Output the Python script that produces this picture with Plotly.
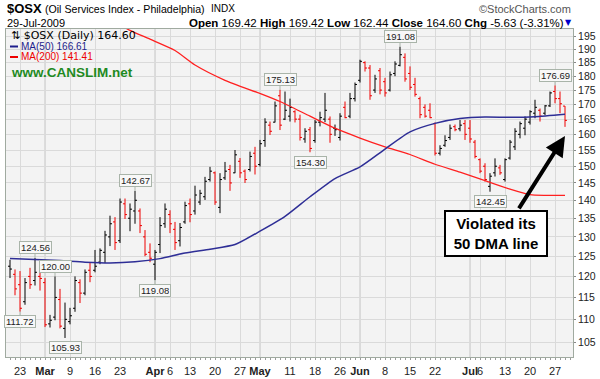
import math
import plotly.graph_objects as go

# ---------------- data ----------------
feb = [19, 20, 23, 24, 25, 26, 27]
mar = [2, 3, 4, 5, 6, 9, 10, 11, 12, 13, 16, 17, 18, 19, 20, 23, 24, 25, 26, 27, 30, 31]
apr = [1, 2, 3, 6, 7, 8, 9, 13, 14, 15, 16, 17, 20, 21, 22, 23, 24, 27, 28, 29, 30]
may = [1, 4, 5, 6, 7, 8, 11, 12, 13, 14, 15, 18, 19, 20, 21, 22, 26, 27, 28, 29]
jun = [1, 2, 3, 4, 5, 8, 9, 10, 11, 12, 15, 16, 17, 18, 19, 22, 23, 24, 25, 26, 29, 30]
jul = [1, 2, 6, 7, 8, 9, 10, 13, 14, 15, 16, 17, 20, 21, 22, 23, 24, 27, 28, 29]
dates = ([f"2009-02-{d:02d}" for d in feb] + [f"2009-03-{d:02d}" for d in mar] +
         [f"2009-04-{d:02d}" for d in apr] + [f"2009-05-{d:02d}" for d in may] +
         [f"2009-06-{d:02d}" for d in jun] + [f"2009-07-{d:02d}" for d in jul])

opens = [122.5, 120.5, 118.0, 114.0, 120.0, 119.0, 120.0, 118.5, 109.0, 110.5,
         114.5, 108.0, 109.5, 112.5, 118.5, 116.0, 121.5, 121.5, 123.5, 126.0,
         130.0, 134.0, 129.0, 139.0, 135.0, 137.0, 137.0, 130.0, 126.0, 123.0,
         128.0, 133.5, 136.0, 132.0, 129.0, 134.0, 139.0, 137.0, 139.5, 141.0,
         146.0, 148.0, 138.0, 146.5, 149.0, 148.0, 151.5, 148.5, 149.0, 154.0,
         150.5, 158.0, 163.0, 164.0, 173.0, 165.0, 166.0, 167.5, 165.0, 158.5,
         161.5, 158.0, 164.0, 165.0, 165.0, 162.0, 159.0, 169.0, 166.0, 172.0,
         178.5, 185.0, 183.0, 175.0, 182.0, 178.0, 175.0, 181.0, 184.0, 187.0,
         181.0, 177.0, 172.0, 169.0, 168.0, 163.5, 154.0, 156.5, 159.0, 162.5,
         161.8, 163.5, 162.0, 157.5, 152.0, 150.0, 144.0, 148.0, 149.5, 146.0,
         152.5, 156.0, 160.0, 162.0, 164.0, 167.0, 168.0, 167.0, 169.5, 174.5,
         172.0, 169.42]
highs = [124.1, 121.7, 121.3, 119.6, 122.1, 124.56, 121.3, 119.6, 111.0, 120.0,
         117.0, 113.8, 112.6, 120.0, 119.3, 121.7, 123.3, 126.6, 127.0, 131.6,
         135.7, 135.3, 140.5, 140.5, 139.1, 142.67, 137.7, 131.8, 128.3, 126.6,
         135.3, 139.1, 137.2, 134.0, 133.7, 139.6, 140.5, 144.2, 143.0, 146.8,
         149.8, 148.4, 147.9, 151.3, 150.4, 155.0, 152.5, 149.0, 154.5, 156.0,
         158.2, 165.3, 164.2, 171.0, 175.13, 174.5, 172.0, 168.0, 166.5, 162.0,
         162.4, 164.7, 167.5, 174.0, 165.9, 163.2, 167.0, 171.0, 174.0, 177.7,
         186.1, 185.5, 184.1, 180.5, 183.0, 179.4, 181.7, 185.5, 191.08, 188.5,
         183.6, 179.4, 172.7, 170.0, 170.4, 163.9, 156.5, 159.7, 163.2, 163.2,
         164.7, 164.7, 164.7, 158.2, 152.4, 150.9, 147.9, 152.4, 150.4, 152.4,
         158.2, 162.0, 164.2, 165.9, 168.0, 171.6, 168.6, 169.8, 174.5, 176.69,
         174.5, 169.42]
lows = [119.6, 115.5, 111.72, 113.3, 117.0, 117.8, 116.6, 108.3, 108.2, 109.8,
        108.0, 105.93, 108.9, 111.7, 113.7, 115.5, 118.6, 121.0, 123.0, 123.3,
        127.6, 126.6, 128.4, 134.8, 131.5, 133.5, 131.0, 125.0, 123.5, 119.08,
        125.8, 132.4, 131.0, 126.6, 127.5, 133.5, 133.9, 136.0, 138.7, 140.1,
        145.4, 138.7, 136.4, 145.9, 142.7, 147.9, 146.5, 145.0, 148.4, 147.5,
        149.9, 156.0, 159.8, 163.9, 161.4, 164.7, 164.2, 163.9, 158.0, 157.3,
        154.3, 157.3, 162.6, 164.0, 157.3, 159.5, 158.0, 165.3, 165.3, 171.0,
        177.7, 181.7, 171.6, 174.0, 173.5, 172.7, 174.5, 180.0, 183.6, 178.0,
        175.0, 172.7, 165.3, 165.5, 165.3, 153.3, 153.3, 156.0, 158.2, 161.0,
        161.0, 158.2, 157.3, 152.4, 147.9, 145.4, 142.45, 146.9, 147.4, 145.4,
        152.0, 155.0, 158.7, 159.7, 163.2, 165.3, 164.2, 166.3, 169.1, 170.4,
        167.0, 162.44]
closes = [121.8, 117.0, 112.5, 118.5, 118.0, 121.0, 119.5, 108.8, 109.8, 115.0,
          108.5, 110.0, 110.8, 119.0, 116.0, 121.0, 120.0, 122.5, 126.5, 130.5,
          133.5, 128.5, 139.5, 136.0, 137.5, 140.0, 133.0, 125.5, 124.5, 126.0,
          133.0, 137.5, 133.5, 128.5, 132.5, 138.5, 136.0, 141.5, 142.0, 145.5,
          148.5, 139.5, 146.0, 148.5, 145.0, 153.5, 148.0, 146.0, 153.0, 150.0,
          157.0, 164.0, 161.0, 169.5, 163.0, 168.0, 169.0, 165.0, 159.0, 161.0,
          155.5, 164.0, 165.5, 168.0, 160.0, 161.5, 166.0, 165.5, 172.0, 177.0,
          185.5, 183.0, 173.0, 179.0, 175.0, 174.0, 180.5, 184.5, 188.0, 179.0,
          176.0, 173.5, 166.5, 166.0, 165.5, 154.0, 155.5, 158.0, 162.0, 161.5,
          163.0, 160.0, 158.5, 153.0, 148.5, 146.0, 147.0, 150.0, 148.0, 152.0,
          157.5, 161.0, 163.5, 165.0, 167.5, 169.0, 166.0, 169.5, 174.0, 172.0,
          170.23, 164.60]

ma50_dates = ["2009-02-19", "2009-02-26", "2009-03-05", "2009-03-12", "2009-03-19",
              "2009-03-26", "2009-04-02", "2009-04-09", "2009-04-17", "2009-04-24",
              "2009-05-01", "2009-05-08", "2009-05-15", "2009-05-22", "2009-06-01",
              "2009-06-08", "2009-06-15", "2009-06-22", "2009-06-29", "2009-07-07",
              "2009-07-14", "2009-07-21", "2009-07-29"]
ma50_vals = [124.4, 124.2, 123.9, 123.5, 123.3, 123.6, 124.4, 125.8, 126.8, 128.0,
             131.5, 135.5, 141.0, 146.3, 149.8, 155.3, 160.8, 163.6, 165.2, 165.7,
             165.6, 165.8, 166.61]
ma200_dates = ["2009-03-19", "2009-03-25", "2009-03-31", "2009-04-07", "2009-04-14",
               "2009-04-22", "2009-05-01", "2009-05-07", "2009-05-15", "2009-05-22",
               "2009-06-01", "2009-06-08", "2009-06-15", "2009-06-22", "2009-06-29",
               "2009-07-07", "2009-07-14", "2009-07-20", "2009-07-23", "2009-07-29"]
ma200_vals = [202.0, 197.5, 194.0, 189.6, 184.1, 178.5, 173.8, 171.0, 166.0, 162.0,
              158.8, 156.0, 153.6, 150.6, 148.2, 145.7, 143.2, 141.6, 141.4, 141.41]

tick_dates = ["2009-02-23", "2009-03-02", "2009-03-09", "2009-03-16", "2009-03-23",
              "2009-04-01", "2009-04-06", "2009-04-13", "2009-04-20", "2009-04-27",
              "2009-05-01", "2009-05-11", "2009-05-18", "2009-05-26", "2009-06-01",
              "2009-06-08", "2009-06-15", "2009-06-22", "2009-07-01", "2009-07-06",
              "2009-07-13", "2009-07-20", "2009-07-27"]
tick_labels = ["23", "<b>Mar</b>", "9", "16", "23", "<b>Apr</b>", "6", "13", "20", "27",
               "<b>May</b>", "11", "18", "26", "<b>Jun</b>", "8", "15", "22", "<b>Jul</b>",
               "6", "13", "20", "27"]
month_dates = ["2009-03-02", "2009-04-01", "2009-05-01", "2009-06-01", "2009-07-01"]
y_ticks = [105, 110, 115, 120, 125, 130, 135, 140, 145, 150, 155, 160, 165, 170,
           175, 180, 185, 190, 195]

# price callouts: (date, value, above?)
callouts = [("2009-02-26", 124.56, True), ("2009-03-04", 120.00, True),
            ("2009-02-23", 111.72, False), ("2009-03-06", 105.93, False),
            ("2009-03-26", 142.67, True), ("2009-04-01", 119.08, False),
            ("2009-05-07", 175.13, True), ("2009-05-15", 154.30, False),
            ("2009-06-11", 191.08, True), ("2009-07-08", 142.45, False),
            ("2009-07-27", 176.69, True)]

# ---------------- build ----------------
idx = {d: i for i, d in enumerate(dates)}
xs = list(range(len(dates)))
up = [True] + [closes[i] >= closes[i - 1] for i in range(1, len(closes))]

W, H = 600, 379
L, R, T, B = 6, 27, 29, 22
PW, PH = W - L - R, H - T - B


def px(x):
    return (x - L) / PW


def py(y):
    return (H - B - y) / PH


fig = go.Figure()
for flag, col in ((True, "#000000"), (False, "#ee0000")):
    sel = [i for i in xs if up[i] == flag]
    fig.add_trace(go.Ohlc(
        x=sel, open=[opens[i] for i in sel], high=[highs[i] for i in sel],
        low=[lows[i] for i in sel], close=[closes[i] for i in sel],
        increasing=dict(line=dict(color=col, width=1)),
        decreasing=dict(line=dict(color=col, width=1)),
        tickwidth=0.4, hoverinfo="skip", showlegend=False))

fig.add_trace(go.Scatter(x=[idx[d] for d in ma200_dates], y=ma200_vals, mode="lines",
                         line=dict(color="#ff2020", width=1.3, shape="spline", smoothing=0.6),
                         hoverinfo="skip", showlegend=False))
fig.add_trace(go.Scatter(x=[idx[d] for d in ma50_dates], y=ma50_vals, mode="lines",
                         line=dict(color="#2e2e96", width=1.5, shape="spline", smoothing=0.6),
                         hoverinfo="skip", showlegend=False))

shapes = []
for d in month_dates:
    shapes.append(dict(type="line", xref="x", yref="paper", x0=idx[d], x1=idx[d], y0=0, y1=1,
                       line=dict(color="#c4c4c4", width=1), layer="below"))
# legend line samples
shapes.append(dict(type="line", xref="paper", yref="paper", x0=px(10), x1=px(18),
                   y0=py(46.5), y1=py(46.5), line=dict(color="#1e1e8c", width=2)))
shapes.append(dict(type="line", xref="paper", yref="paper", x0=px(10), x1=px(18),
                   y0=py(57), y1=py(57), line=dict(color="#ee0000", width=2)))

ann = []
for d, v, above in callouts:
    ann.append(dict(x=idx[d], y=math.log10(v), xref="x", yref="y", text=f"{v:.2f}",
                    showarrow=True, arrowhead=0, arrowwidth=1, arrowcolor="#a9b4a9",
                    ax=0, ay=-10 if above else 10, height=9,
                    font=dict(family="Liberation Sans", size=9.5, color="#222"),
                    bgcolor="#f8f8f8", bordercolor="#a9b4a9", borderwidth=1, borderpad=1))

# arrow to the last bar
ann.append(dict(x=111.0, y=math.log10(159.5), xref="x", yref="y",
                ax=101.6, ay=math.log10(137.3), axref="x", ayref="y",
                text="", showarrow=True, arrowhead=2, arrowsize=1, arrowwidth=4,
                arrowcolor="black"))
ann.append(dict(x=px(496), y=py(233.5), xref="paper", yref="paper",
                xanchor="center", yanchor="middle",
                text="<b>Violated its<br>50 DMA line</b>", showarrow=False,
                font=dict(family="Liberation Sans", size=15, color="black"),
                bgcolor="white", bordercolor="black", borderwidth=2, borderpad=3,
                width=94, align="center"))


def txt(x, y, s, size, color="black", family="Liberation Sans", anchor="left"):
    return dict(x=px(x), y=py(y), xref="paper", yref="paper", xanchor=anchor,
                yanchor="middle", text=s, showarrow=False,
                font=dict(family=family, size=size, color=color))


ann += [
    txt(5, 8.5, "<b>$OSX</b>", 13),
    txt(43, 8.5, "(Oil Services Index - Philadelphia)", 10.6),
    txt(209, 8.5, "INDX", 10),
    txt(5, 22.5, "29-Jul-2009", 11),
    txt(573, 9, "\u00a9StockCharts.com", 11, color="#555", anchor="right"),
    txt(566, 22.5, "<b>Open</b> 169.42 <b>High</b> 169.42 <b>Low</b> 162.44 "
                   "<b>Close</b> 164.60 <b>Chg</b> -5.63 (-3.31%)", 11.5, anchor="right"),
    txt(574, 22.5, "\u25bc", 8, color="#0000cc", family="DejaVu Sans", anchor="right"),
    # in-plot legend
    txt(9, 35.5, "\u21c5 $OSX (Daily) 164.60", 11, family="DejaVu Sans"),
    txt(19, 46.5, "MA(50) 166.61", 10, color="#1e1e8c"),
    txt(19, 57, "MA(200) 141.41", 10, color="#ee0000"),
    txt(9, 72, "<b>www.CANSLIM.net</b>", 13.5, color="#1f8a1f"),
]

fig.update_layout(
    width=W, height=H, margin=dict(l=L, r=R, t=T, b=B, autoexpand=False),
    paper_bgcolor="white", plot_bgcolor="#f3f3f3",
    showlegend=False, shapes=shapes, annotations=ann,
    xaxis=dict(range=[-0.8, 112.6], tickmode="array", automargin=False, tickangle=0,
               tickvals=[idx[d] for d in tick_dates], ticktext=tick_labels,
               showgrid=True, gridcolor="#dadada", gridwidth=1, zeroline=False,
               showline=True, linecolor="#a0aaa0", mirror=True,
               ticks="outside", ticklen=4, tickcolor="rgba(0,0,0,0)",
               tickfont=dict(family="Liberation Sans", size=11, color="#222"),
               rangeslider=dict(visible=False),
               minor=dict(dtick=1, tick0=0, ticks="outside", ticklen=2, tickcolor="#9a9a9a",
                          showgrid=False)),
    yaxis=dict(type="log", side="right", range=[2.00829, 2.29677], automargin=False,
               tickmode="array", tickvals=y_ticks, ticktext=[str(v) for v in y_ticks],
               showgrid=True, gridcolor="#dadada", gridwidth=1, zeroline=False,
               showline=True, linecolor="#a0aaa0", mirror=True,
               ticks="outside", ticklen=2, tickcolor="#888",
               tickfont=dict(family="Liberation Sans", size=10.5, color="#222")),
)

fig.write_html("out.html", config={"displayModeBar": False, "staticPlot": True},
               post_script="document.body.style.margin='0px';"
                           "document.body.style.overflow='hidden';")
